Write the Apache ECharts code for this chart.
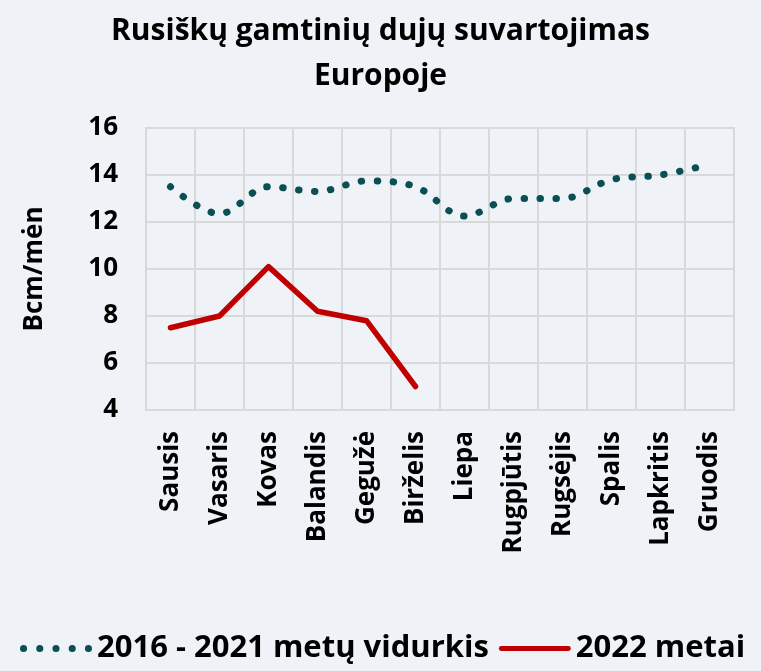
<!DOCTYPE html>
<html>
<head>
<meta charset="utf-8">
<script src="https://cdn.jsdelivr.net/npm/echarts@6/dist/echarts.min.js"></script>
<style>
  html, body { margin: 0; padding: 0; background: #eff3f7; }
  #chart { width: 761px; height: 671px; }
</style>
</head>
<body>
<div id="chart"></div>
<script>
  // menesiai
  var months = ['Sausis', 'Vasaris', 'Kovas', 'Balandis', 'Gegužė', 'Birželis',
    'Liepa', 'Rugpjūtis', 'Rugsėjis', 'Spalis', 'Lapkritis', 'Gruodis'];
  var avg2016_2021 = [13.5, 12.35, 13.5, 13.3, 13.75, 13.5, 12.25, 13.0, 13.0, 13.8, 14.0, 14.45];
  var year2022 = [7.5, 8.0, 10.1, 8.2, 7.8, 5.0];
  var yTicks = [4, 6, 8, 10, 12, 14, 16];

  var font = '"Open Sans", sans-serif';
  var gridColor = '#d9d9d9';

  // legendos ikonos
  var dotsIcon = 'path://M0,3.5a3.5,3.5 0 1,0 7,0a3.5,3.5 0 1,0 -7,0Z' +
    'M16,3.5a3.5,3.5 0 1,0 7,0a3.5,3.5 0 1,0 -7,0Z' +
    'M32,3.5a3.5,3.5 0 1,0 7,0a3.5,3.5 0 1,0 -7,0Z' +
    'M48,3.5a3.5,3.5 0 1,0 7,0a3.5,3.5 0 1,0 -7,0Z' +
    'M64,3.5a3.5,3.5 0 1,0 7,0a3.5,3.5 0 1,0 -7,0Z';
  var lineIcon = 'path://M2.5,0H70.5A2.5,2.5 0 0,1 70.5,5H2.5A2.5,2.5 0 0,1 2.5,0Z';

  var chart = echarts.init(document.getElementById('chart'));
  chart.setOption({
    backgroundColor: '#eff3f7',
    textStyle: { fontFamily: font },
    title: {
      text: 'Rusiškų gamtinių dujų suvartojimas\nEuropoje',
      left: 'center',
      top: 4,
      textStyle: {
        fontFamily: font,
        fontWeight: 'bold',
        fontSize: 30,
        lineHeight: 45,
        color: '#000'
      }
    },
    legend: {
      bottom: 2,
      left: 15,
      itemWidth: 72,
      itemHeight: 14,
      itemGap: 10,
      textStyle: { fontFamily: font, fontWeight: 'bold', fontSize: 31, color: '#000' },
      data: [
        { name: '2016 - 2021 metų vidurkis', icon: dotsIcon },
        { name: '2022 metai', icon: lineIcon }
      ]
    },
    grid: {
      left: 146,
      right: 27,
      top: 128,
      bottom: 261,
      show: true,
      borderColor: gridColor,
      borderWidth: 2
    },
    xAxis: {
      type: 'category',
      data: months,
      boundaryGap: true,
      axisLine: { lineStyle: { color: gridColor, width: 2 } },
      axisTick: { show: false },
      splitLine: { show: true, lineStyle: { color: gridColor, width: 2 } },
      axisLabel: {
        interval: 0,
        rotate: 90,
        margin: 21,
        fontFamily: font,
        fontWeight: 'bold',
        fontSize: 26,
        color: '#000'
      }
    },
    yAxis: {
      type: 'value',
      min: yTicks[0],
      max: yTicks[yTicks.length - 1],
      interval: 2,
      name: 'Bcm/mėn',
      nameLocation: 'middle',
      nameGap: 98,
      nameTextStyle: { fontFamily: font, fontWeight: 'bold', fontSize: 26, color: '#000' },
      axisLine: { show: true, lineStyle: { color: gridColor, width: 2 } },
      axisTick: { show: false },
      splitLine: { show: true, lineStyle: { color: gridColor, width: 2 } },
      axisLabel: {
        margin: 28,
        fontFamily: font,
        fontWeight: 'bold',
        fontSize: 26,
        color: '#000'
      }
    },
    series: [
      {
        name: '2016 - 2021 metų vidurkis',
        type: 'line',
        data: avg2016_2021,
        smooth: 0.35,
        symbol: 'none',
        color: '#0a4f54',
        lineStyle: {
          color: '#0a4f54',
          width: 7,
          type: [0.5, 15.5],
          cap: 'round'
        }
      },
      {
        name: '2022 metai',
        type: 'line',
        data: year2022,
        symbol: 'none',
        color: '#c00000',
        lineStyle: { color: '#c00000', width: 5.5, cap: 'round', join: 'round' }
      }
    ]
  });
</script>
</body>
</html>
